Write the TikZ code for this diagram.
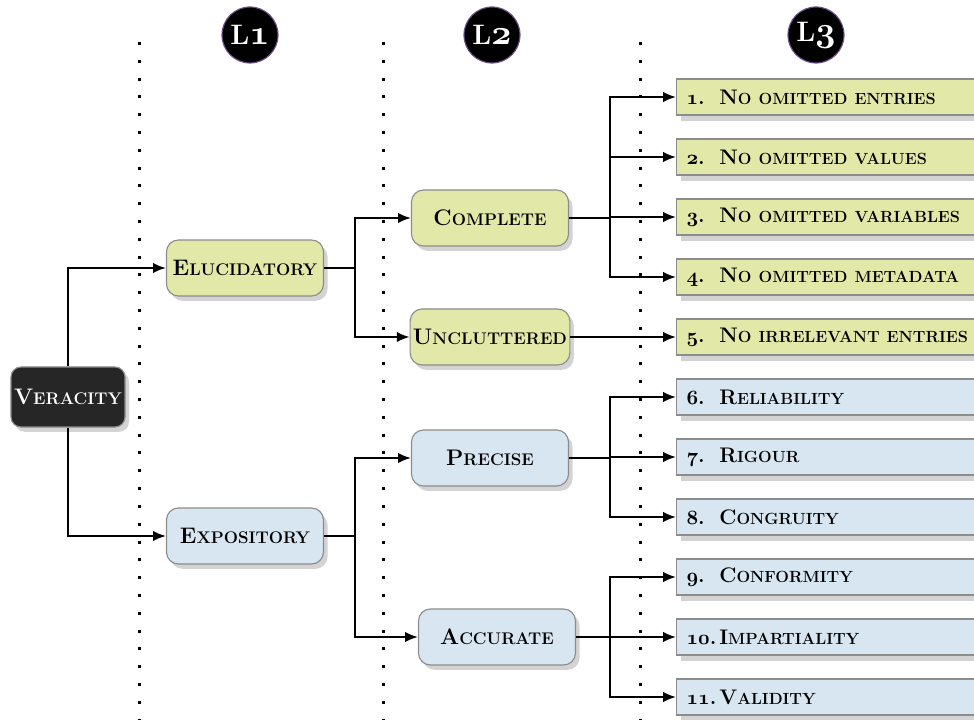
\documentclass[tikz,border=0pt]{standalone}
\usetikzlibrary{arrows.meta,shadows}
\definecolor{VtGreen}{RGB}{226,233,168}
\definecolor{VtBlue}{RGB}{215,230,240}
\definecolor{VtDark}{RGB}{38,38,38}
\definecolor{VtEdge}{RGB}{140,140,140}
\definecolor{VtRing}{RGB}{110,80,140}
\newcommand{\vtsmall}{\fontsize{12}{14}\selectfont}
\newcommand{\vtsc}[2]{#1{\vtsmall\MakeUppercase{#2}}}
\newcommand{\vtold}[2]{{\fontsize{#1}{#1}\usefont{OML}{cmm}{b}{it}#2}}
\newcommand{\vtnum}[1]{\makebox[0.82cm][l]{\vtold{14.5}{#1}.}}
\tikzset{
  vt/root/.style={
    draw=VtEdge,
    thick,
    rounded corners=0.25cm,
    fill=VtDark,
    text=white,
    minimum width=2.85cm,
    minimum height=1.5cm,
    inner sep=2pt,
    drop shadow={shadow xshift=0.1cm,shadow yshift=-0.12cm,opacity=0.35},
    font=\fontsize{16}{19}\selectfont\bfseries
  },
  vt/mid/.style={
    draw=VtEdge,
    thick,
    rounded corners=0.3cm,
    minimum width=3.925cm,
    minimum height=1.4cm,
    inner sep=2pt,
    drop shadow={shadow xshift=0.1cm,shadow yshift=-0.12cm,opacity=0.35},
    font=\fontsize{16}{19}\selectfont\bfseries
  },
  vt/leaf/.style={
    draw=VtEdge,
    thick,
    anchor=west,
    minimum height=0.9cm,
    text width=7.75cm,
    inner xsep=0.25cm,
    align=left,
    drop shadow={shadow xshift=0.1cm,shadow yshift=-0.15cm,opacity=0.35},
    font=\fontsize{15}{18}\selectfont\bfseries\renewcommand{\vtsmall}{\fontsize{11.5}{14}\selectfont}
  },
  vt/head/.style={
    circle,
    fill=black,
    draw=VtRing,
    thick,
    minimum size=1.4cm,
    inner sep=0pt,
    text=white,
    font=\fontsize{20}{24}\selectfont\bfseries
  },
  vt/arrow/.style={-{Latex[length=0.32cm,width=0.26cm]}, line width=0.05cm},
  vt/sep/.style={line width=0.075cm, dash pattern=on 0.075cm off 0.37cm}
}
\begin{document}
\begin{tikzpicture}[x=0.025cm,y=-0.025cm]
  \useasboundingbox (0,0) rectangle (974,720);
  \clip (0,0) rectangle (974,720);
  % level separators and headers
  \foreach \x in {139,383,640}
    \draw[vt/sep] (\x,42) -- (\x,722);
  \node[vt/head] (h1) at (250,35) {L\vtold{24}{1}};
  \node[vt/head] (h2) at (492,35) {L\vtold{24}{2}};
  \node[vt/head] (h3) at (816,35) {L\vtold{24}{3}};
  % tree nodes
  \node[vt/root] (ver) at (68,397) {\vtsc{V}{eracity}};
  \node[vt/mid,fill=VtGreen] (eluc) at (245,268) {\vtsc{E}{lucidatory}};
  \node[vt/mid,fill=VtBlue] (expo) at (245,536) {\vtsc{E}{xpository}};
  \node[vt/mid,fill=VtGreen] (comp) at (490,218) {\vtsc{C}{omplete}};
  \node[vt/mid,fill=VtGreen] (uncl) at (490,337) {\vtsc{U}{ncluttered}};
  \node[vt/mid,fill=VtBlue] (prec) at (490,458) {\vtsc{P}{recise}};
  \node[vt/mid,fill=VtBlue] (accu) at (497,637) {\vtsc{A}{ccurate}};
  \foreach \i/\txt/\col in {
      1/{\vtsc{N}{o omitted entries}}/VtGreen,
      2/{\vtsc{N}{o omitted values}}/VtGreen,
      3/{\vtsc{N}{o omitted variables}}/VtGreen,
      4/{\vtsc{N}{o omitted metadata}}/VtGreen,
      5/{\vtsc{N}{o irrelevant entries}}/VtGreen,
      6/{\vtsc{R}{eliability}}/VtBlue,
      7/{\vtsc{R}{igour}}/VtBlue,
      8/{\vtsc{C}{ongruity}}/VtBlue,
      9/{\vtsc{C}{onformity}}/VtBlue,
      10/{\vtsc{I}{mpartiality}}/VtBlue,
      11/{\vtsc{V}{alidity}}/VtBlue}
    \node[vt/leaf,fill=\col] (l\i) at (676,{37+60*\i}) {\vtnum{\i}\txt};
  % junctions
  \coordinate (eluc-j) at (355,268);
  \coordinate (expo-j) at (355,536);
  \coordinate (comp-j) at (610,218);
  \coordinate (prec-j) at (610,458);
  \coordinate (accu-j) at (610,637);
  % connectors
  \draw[vt/arrow] (ver.north) |- (eluc.west);
  \draw[vt/arrow] (ver.south) |- (expo.west);
  \draw[vt/arrow] (eluc.east) -- (eluc-j) |- (comp.west);
  \draw[vt/arrow] (eluc-j) |- (uncl.west);
  \draw[vt/arrow] (expo.east) -- (expo-j) |- (prec.west);
  \draw[vt/arrow] (expo-j) |- (accu.west);
  \foreach \i in {1,...,4}
    \draw[vt/arrow] (comp.east) -- (comp-j) |- (l\i.west);
  \draw[vt/arrow] (uncl.east) -- (l5.west);
  \foreach \i in {6,7,8}
    \draw[vt/arrow] (prec.east) -- (prec-j) |- (l\i.west);
  \foreach \i in {9,10,11}
    \draw[vt/arrow] (accu.east) -- (accu-j) |- (l\i.west);
\end{tikzpicture}
\end{document}
